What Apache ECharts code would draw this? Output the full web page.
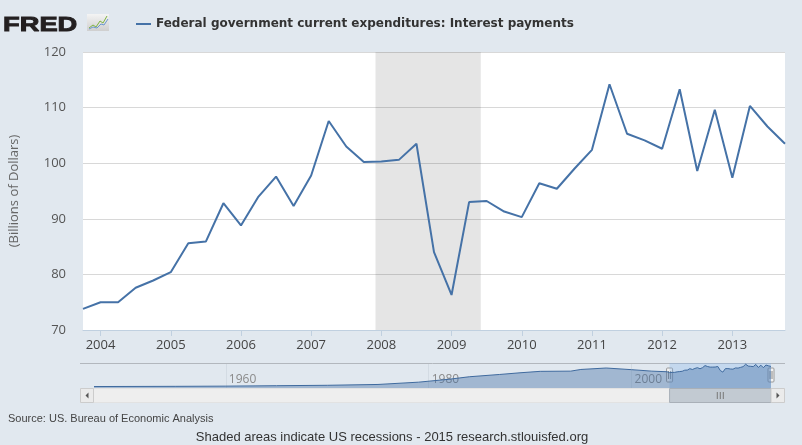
<!DOCTYPE html>
<html>
<head>
<meta charset="utf-8">
<title>FRED - Federal government current expenditures: Interest payments</title>
<script src="https://cdn.jsdelivr.net/npm/echarts@6/dist/echarts.min.js"></script>
<style>
  html, body { margin: 0; padding: 0; background: #e1e8ef; }
  #chart { width: 802px; height: 445px; }
</style>
</head>
<body>
<div id="chart"></div>
<script>
var seriesName = 'Federal government current expenditures: Interest payments';

// quarterly observations, billions of dollars
var quarters = [
  '2003-10',
  '2004-01', '2004-04', '2004-07', '2004-10',
  '2005-01', '2005-04', '2005-07', '2005-10',
  '2006-01', '2006-04', '2006-07', '2006-10',
  '2007-01', '2007-04', '2007-07', '2007-10',
  '2008-01', '2008-04', '2008-07', '2008-10',
  '2009-01', '2009-04', '2009-07', '2009-10',
  '2010-01', '2010-04', '2010-07', '2010-10',
  '2011-01', '2011-04', '2011-07', '2011-10',
  '2012-01', '2012-04', '2012-07', '2012-10',
  '2013-01', '2013-04', '2013-07', '2013-10'
];
var interest = [
  73.8,
  75.0, 75.0, 77.6, 78.9,
  80.4, 85.6, 85.9, 92.8,
  88.8, 94.0, 97.6, 92.3,
  97.8, 107.6, 103.0, 100.2,
  100.3, 100.6, 103.5, 84.0,
  76.3, 93.0, 93.2, 91.3,
  90.3, 96.4, 95.4, 99.0,
  102.4, 114.2, 105.3, 104.1,
  102.6, 113.3, 98.6, 109.6,
  97.4, 110.3, 106.6, 103.5
];
var yearTicks = [2004, 2005, 2006, 2007, 2008, 2009, 2010, 2011, 2012, 2013];
var recession = ['2007-12', '2009-06'];

// navigator: earlier history
var navYears = [1947, 1955, 1960, 1965, 1970, 1975, 1979, 1982, 1984, 1987, 1989, 1991, 1994, 1995, 1997.5, 2000, 2002, 2003.5];
var navValues = [7, 8, 9, 11, 13, 17, 28, 42, 54, 65, 73, 80, 81, 89, 96, 88, 81, 78];
var navTicks = [1960, 1980, 2000];

function toYear(s) {
  return Number(s.slice(0, 4)) + (Number(s.slice(5, 7)) - 1) / 12;
}

var mainData = quarters.map(function (q, i) { return [toYear(q), interest[i]]; });
var navData = navYears.map(function (y, i) { return [y, navValues[i]]; }).concat(mainData);
var selStart = toYear(quarters[0]);
var selEnd = toYear(quarters[quarters.length - 1]);

var chart = echarts.init(document.getElementById('chart'));

var option = {
  backgroundColor: '#e1e8ef',
  animation: false,
  textStyle: { fontFamily: 'Open Sans, sans-serif' },
  legend: {
    data: [seriesName],
    left: 131,
    top: 13,
    icon: 'rect',
    itemWidth: 15,
    itemHeight: 2,
    itemGap: 6,
    selectedMode: false,
    textStyle: { fontFamily: 'DejaVu Sans', fontWeight: 'bold', fontSize: 12, color: '#333333' }
  },
  grid: [
    { left: 80, right: 17, top: 52, bottom: 115, show: true, backgroundColor: '#ffffff', borderWidth: 0 },
    { left: 94, right: 31, top: 363, bottom: 57, show: false }
  ],
  xAxis: [
    {
      type: 'value', gridIndex: 0, min: selStart, max: selEnd,
      axisLine: { lineStyle: { color: '#c0d0e0' } },
      axisTick: { customValues: yearTicks, length: 6, lineStyle: { color: '#c0d0e0' } },
      axisLabel: {
        customValues: yearTicks, margin: 9, color: '#444444', fontSize: 13,
        formatter: function (v) { return String(Math.round(v)); }
      },
      splitLine: { show: false }
    },
    {
      type: 'value', gridIndex: 1, min: 1947, max: selEnd,
      axisLine: { show: false },
      axisTick: { show: false, customValues: navTicks },
      axisLabel: {
        customValues: navTicks, inside: true, margin: 2, align: 'left', padding: [0, 0, 0, 3],
        color: '#8a8a8a', fontSize: 12,
        formatter: function (v) { return String(Math.round(v)); }
      },
      splitLine: { show: true, lineStyle: { color: '#d3dbe3' } }
    }
  ],
  yAxis: [
    {
      type: 'value', gridIndex: 0, min: 70, max: 120, interval: 10,
      name: '(Billions of Dollars)', nameLocation: 'middle', nameGap: 62,
      nameTextStyle: { color: '#666666', fontSize: 13 },
      axisLine: { show: false },
      axisTick: { show: false },
      axisLabel: { color: '#555555', fontSize: 13, margin: 17 },
      splitLine: { lineStyle: { color: '#d8d8d8' } }
    },
    {
      type: 'value', gridIndex: 1, min: 0, max: 120,
      axisLine: { show: false }, axisTick: { show: false },
      axisLabel: { show: false }, splitLine: { show: false }
    }
  ],
  series: [
    {
      name: seriesName,
      type: 'line',
      xAxisIndex: 0, yAxisIndex: 0,
      data: mainData,
      symbol: 'none',
      lineStyle: { color: '#4572a7', width: 2 },
      itemStyle: { color: '#4572a7' },
      markArea: {
        silent: true,
        itemStyle: { color: 'rgba(0,0,0,0.1)' },
        data: [[{ xAxis: toYear(recession[0]) }, { xAxis: toYear(recession[1]) }]]
      }
    },
    {
      name: 'navigator',
      type: 'line',
      xAxisIndex: 1, yAxisIndex: 1,
      data: navData,
      symbol: 'none',
      silent: true,
      lineStyle: { color: '#3f6a9e', width: 1 },
      areaStyle: { color: 'rgba(69,114,167,0.58)' },
      markArea: {
        silent: true,
        itemStyle: { color: 'rgba(128,179,236,0.3)' },
        data: [[{ xAxis: selStart }, { xAxis: selEnd }]]
      }
    }
  ]
};

chart.setOption(option);

// logo, navigator handles, scrollbar and footer texts
function drawExtras() {
  var x0 = chart.convertToPixel({ xAxisIndex: 1 }, selStart);
  var x1 = chart.convertToPixel({ xAxisIndex: 1 }, selEnd);
  var mid = (x0 + x1) / 2;

  function handle(x) {
    return {
      type: 'group',
      children: [
        { type: 'rect', shape: { x: x - 3, y: 368, width: 6, height: 14, r: 1 }, style: { fill: '#f2f2f2', stroke: '#9a9a9a', lineWidth: 1 } },
        { type: 'line', shape: { x1: x - 1, y1: 371, x2: x - 1, y2: 379 }, style: { stroke: '#8a8a8a', lineWidth: 1 } },
        { type: 'line', shape: { x1: x + 1, y1: 371, x2: x + 1, y2: 379 }, style: { stroke: '#8a8a8a', lineWidth: 1 } }
      ]
    };
  }

  chart.setOption({
    graphic: [
      {
        type: 'text', x: 3, y: 25, scaleX: 1.3,
        style: { text: 'FRED', fontFamily: 'Liberation Sans', fontWeight: 'bold', fontSize: 21, fill: '#231f20', stroke: '#231f20', lineWidth: 0.9, textVerticalAlign: 'middle' }
      },
      {
        type: 'rect', shape: { x: 87, y: 14, width: 22, height: 17 },
        style: { fill: new echarts.graphic.LinearGradient(0, 0, 0, 1, [{ offset: 0, color: '#f4f4f4' }, { offset: 1, color: '#cfcfcf' }]) }
      },
      { type: 'polyline', shape: { points: [[89, 28], [93, 25], [96, 27], [100, 21], [103, 23], [107, 16]] }, style: { stroke: '#7fb341', lineWidth: 1, fill: null } },
      { type: 'polyline', shape: { points: [[89, 29], [93, 27], [97, 28], [101, 24], [104, 25], [108, 19]] }, style: { stroke: '#6b98cf', lineWidth: 1, fill: null } },

      { type: 'line', shape: { x1: 80, y1: 363.5, x2: 785, y2: 363.5 }, style: { stroke: '#b2b7bd', lineWidth: 1 } },

      { type: 'rect', shape: { x: 80.5, y: 388.5, width: 704, height: 14 }, style: { fill: '#eeeeee', stroke: '#e2e2e2', lineWidth: 1 } },
      { type: 'rect', shape: { x: 80.5, y: 388.5, width: 13, height: 14 }, style: { fill: '#ebebeb', stroke: '#cccccc', lineWidth: 1 } },
      { type: 'polygon', shape: { points: [[88.5, 392.5], [88.5, 398.5], [85.5, 395.5]] }, style: { fill: '#555555' } },
      { type: 'rect', shape: { x: x0, y: 388.5, width: x1 - x0, height: 14 }, style: { fill: '#c2cad2', stroke: '#a9b0b8', lineWidth: 1 } },
      { type: 'line', shape: { x1: mid - 3, y1: 392, x2: mid - 3, y2: 399 }, style: { stroke: '#777777', lineWidth: 1 } },
      { type: 'line', shape: { x1: mid, y1: 392, x2: mid, y2: 399 }, style: { stroke: '#777777', lineWidth: 1 } },
      { type: 'line', shape: { x1: mid + 3, y1: 392, x2: mid + 3, y2: 399 }, style: { stroke: '#777777', lineWidth: 1 } },
      { type: 'rect', shape: { x: x1, y: 388.5, width: 13.5, height: 14 }, style: { fill: '#ebebeb', stroke: '#cccccc', lineWidth: 1 } },
      { type: 'polygon', shape: { points: [[x1 + 5.5, 392.5], [x1 + 5.5, 398.5], [x1 + 8.5, 395.5]] }, style: { fill: '#555555' } },
      handle(x0),
      handle(x1),

      {
        type: 'text', x: 8, y: 419,
        style: { text: 'Source: US. Bureau of Economic Analysis', fontFamily: 'Liberation Sans', fontSize: 11, fill: '#444444', textVerticalAlign: 'middle' }
      },
      {
        type: 'text', x: 392, y: 437,
        style: { text: 'Shaded areas indicate US recessions - 2015 research.stlouisfed.org', fontFamily: 'Liberation Sans', fontSize: 13, fill: '#333333', textAlign: 'center', textVerticalAlign: 'middle' }
      }
    ]
  });
}

drawExtras();
</script>
</body>
</html>
